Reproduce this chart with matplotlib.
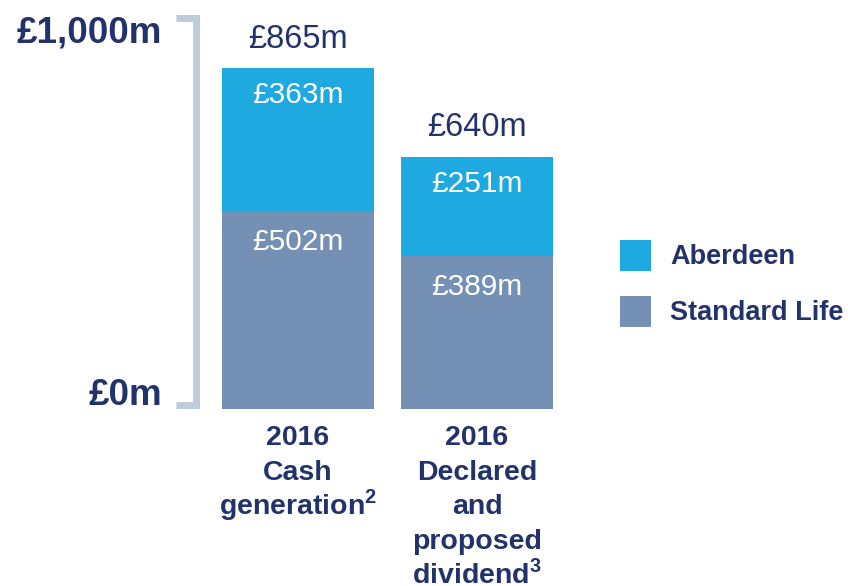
import matplotlib
matplotlib.use('Agg')
import matplotlib.pyplot as plt

# ---- data ----
categories = ['2016\nCash\ngeneration$^{\\mathbf{2}}$',
              '2016\nDeclared\nand\nproposed\ndividend$^{\\mathbf{3}}$']
standard_life = [502, 389]
aberdeen = [363, 251]
totals = [865, 640]
series_names = ['Aberdeen', 'Standard Life']
axis_values = [0, 1000]
axis_labels = ['£0m', '£1,000m']

# ---- style ----
NAVY = '#22336B'
ABERDEEN_C = '#1EAAE0'
SL_C = '#7490B5'
BRACKET_C = '#BFCCDC'
plt.rcParams['font.family'] = ['Liberation Sans', 'DejaVu Sans']
plt.rcParams['mathtext.fontset'] = 'custom'
plt.rcParams['mathtext.rm'] = 'Liberation Sans'
plt.rcParams['mathtext.bf'] = 'Liberation Sans:bold'

W, H = 848, 586
fig = plt.figure(figsize=(W / 100, H / 100), dpi=100)
px_bottom, px_top = 409, 15           # pixel rows of y=0 and y=1000
ax = fig.add_axes([0, (H - px_bottom) / H, 1, (px_bottom - px_top) / H])
x0_px, step_px = 298, 179
ax.set_xlim(-x0_px / step_px, (W - x0_px) / step_px)
ax.set_ylim(0, 1000)
ax.axis('off')

PT = 0.72  # points per pixel
x = list(range(len(categories)))
width = 152 / step_px
b1 = ax.bar(x, standard_life, width=width, color=SL_C, label='Standard Life')
b2 = ax.bar(x, aberdeen, bottom=standard_life, width=width, color=ABERDEEN_C, label='Aberdeen')

# value labels
for i in x:
    ax.annotate(f'£{totals[i]}m', (i, totals[i]), xytext=(0, 29 * PT), textcoords='offset points',
                ha='center', va='center', fontsize=23.5, color=NAVY)
    ax.annotate(f'£{aberdeen[i]}m', (i, totals[i]), xytext=(0, -27 * PT), textcoords='offset points',
                ha='center', va='center', fontsize=21.5, color='white')
    ax.annotate(f'£{standard_life[i]}m', (i, standard_life[i]), xytext=(0, -31 * PT),
                textcoords='offset points', ha='center', va='center', fontsize=21.5, color='white')
    for k, line in enumerate(categories[i].split('\n')):
        ax.annotate(line, (i, 0), xytext=(0, -(36 + 34.6 * k) * PT), textcoords='offset points',
                    ha='center', va='baseline', fontsize=20.5, fontweight='bold', color=NAVY,
                    annotation_clip=False)

# bracket axis
upp = 1000 / (px_bottom - px_top)  # data units per pixel
xv = (196 - x0_px) / step_px
xl = (176 - x0_px) / step_px
ax.plot([xl, xv, xv, xl], [axis_values[1] - 3 * upp, axis_values[1] - 3 * upp,
                           axis_values[0] + 4 * upp, axis_values[0] + 4 * upp],
        color=BRACKET_C, lw=7 * PT, solid_joinstyle='miter', solid_capstyle='butt', clip_on=False)
xlab = (162 - x0_px) / step_px
ax.annotate(axis_labels[1], (xlab, axis_values[1]), xytext=(0, -28 * PT), textcoords='offset points',
            ha='right', va='baseline', fontsize=26.5, fontweight='bold', color=NAVY, annotation_clip=False)
ax.annotate(axis_labels[0], (xlab, axis_values[0]), xytext=(0, 4 * PT), textcoords='offset points',
            ha='right', va='baseline', fontsize=26.5, fontweight='bold', color=NAVY, annotation_clip=False)

# legend
leg = ax.legend([b2, b1], series_names, loc='upper left',
                bbox_to_anchor=(620 / W, 1 - 240 / H), bbox_transform=fig.transFigure,
                frameon=False, borderpad=0, borderaxespad=0, handlelength=1.14, handleheight=1.37,
                handletextpad=0.72, labelspacing=0.93,
                prop={'size': 19.5, 'weight': 'bold', 'family': ['Liberation Sans']})
for t in leg.get_texts():
    t.set_color(NAVY)

fig.savefig('out.png', dpi=100)
